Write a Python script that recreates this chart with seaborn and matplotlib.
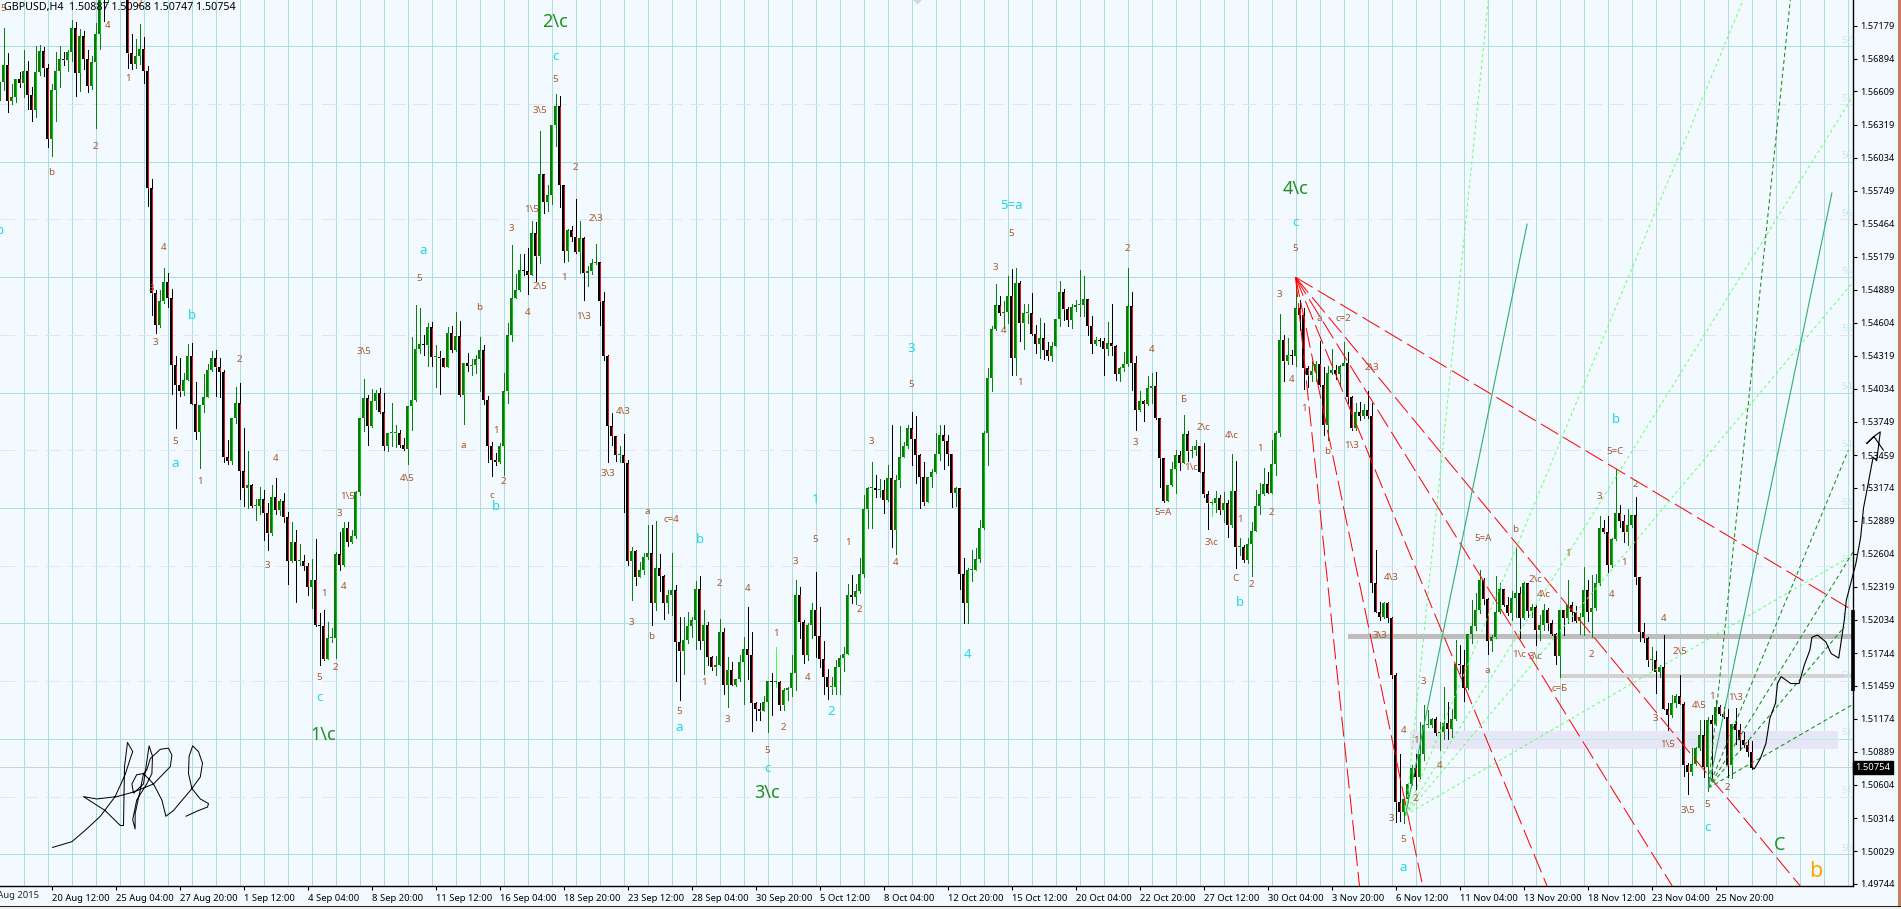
import numpy as np
import seaborn as sns
import matplotlib.pyplot as plt
from matplotlib.patches import Rectangle

# GBPUSD H4 candles, prices in 1/10000, first candle has index -1
first_open = 15653
closes = [15669,
    15684,15653,15656,15672,15668,15679,15658,15645,15678,15696,
    15681,15620,15662,15679,15689,15688,15695,15716,15677,15709,
    15689,15666,15686,15711,15746,15745,15770,15790,15800,15790,
    15785,15694,15685,15692,15698,15679,15577,15486,15459,15479,
    15496,15482,15424,15407,15401,15411,15432,15390,15366,15389,
    15396,15420,15430,15422,15418,15344,15341,15378,15391,15332,
    15317,15320,15302,15302,15308,15296,15278,15310,15298,15306,
    15292,15254,15271,15254,15254,15250,15232,15238,15199,15198,
    15169,15187,15187,15260,15251,15283,15271,15276,15314,15378,
    15395,15371,15393,15400,15383,15354,15365,15365,15365,15355,
    15351,15388,15394,15438,15442,15441,15457,15431,15431,15430,
    15422,15452,15437,15449,15398,15426,15423,15424,15429,15437,
    15394,15354,15342,15340,15354,15401,15450,15482,15489,15506,
    15505,15502,15538,15518,15589,15565,15571,15632,15648,15580,
    15523,15541,15535,15522,15534,15504,15505,15512,15513,15479,
    15432,15371,15362,15346,15346,15339,15254,15263,15240,15246,
    15258,15261,15218,15248,15241,15218,15225,15229,15184,15176,
    15186,15198,15203,15230,15185,15199,15171,15162,15164,15193,
    15147,15160,15147,15152,15167,15178,15173,15131,15126,15124,
    15132,15150,15149,15149,15129,15142,15144,15157,15225,15201,
    15173,15199,15212,15189,15169,15154,15145,15145,15162,15170,
    15174,15225,15223,15228,15243,15299,15317,15317,15316,15316,
    15307,15326,15281,15324,15344,15354,15369,15360,15346,15327,
    15305,15327,15331,15347,15363,15358,15347,15313,15317,15243,
    15218,15246,15246,15256,15283,15365,15413,15455,15476,15469,
    15470,15484,15430,15495,15460,15469,15469,15451,15442,15447,
    15437,15432,15440,15464,15487,15472,15463,15474,15476,15476,
    15481,15458,15442,15446,15445,15438,15443,15440,15416,15421,
    15425,15475,15426,15385,15393,15390,15404,15406,15378,15343,
    15306,15320,15334,15346,15339,15364,15349,15350,15354,15331,
    15312,15304,15304,15309,15298,15304,15285,15315,15266,15266,
    15255,15269,15280,15302,15312,15321,15313,15338,15365,15446,
    15427,15433,15432,15473,15467,15421,15415,15419,15425,15407,
    15372,15417,15420,15416,15423,15426,15396,15369,15383,15380,
    15385,15380,15235,15210,15206,15218,15205,15155,15045,15037,
    15048,15061,15075,15067,15087,15112,15112,15117,15105,15106,
    15114,15109,15117,15165,15164,15144,15191,15198,15212,15238,
    15221,15185,15188,15210,15230,15216,15209,15222,15226,15205,
    15235,15211,15214,15194,15199,15212,15200,15191,15172,15212,
    15205,15216,15210,15202,15206,15229,15210,15213,15235,15283,
    15279,15251,15273,15296,15289,15279,15285,15294,15240,15193,
    15187,15168,15168,15158,15162,15126,15121,15131,15137,15130,
    15077,15071,15078,15092,15103,15076,15116,15113,15128,15122,
    15119,15077,15113,15108,15099,15095,15089,15075]
highs = [15669,
    15716,15694,15667,15672,15678,15697,15687,15665,15700,15701,
    15699,15685,15667,15695,15700,15695,15697,15723,15721,15715,
    15713,15697,15692,15720,15755,15760,15780,15800,15810,15810,
    15800,15790,15711,15706,15719,15708,15683,15585,15489,15489,
    15508,15504,15490,15432,15430,15417,15442,15443,15409,15389,
    15416,15425,15436,15437,15430,15420,15359,15378,15405,15408,
    15369,15349,15321,15308,15318,15316,15304,15320,15326,15308,
    15313,15297,15288,15281,15269,15259,15252,15256,15273,15209,
    15212,15201,15196,15262,15279,15288,15288,15281,15315,15378,
    15412,15398,15403,15402,15404,15400,15365,15391,15372,15368,
    15361,15388,15448,15476,15473,15450,15460,15461,15441,15436,
    15430,15457,15458,15470,15462,15426,15434,15429,15433,15448,
    15441,15397,15357,15348,15356,15417,15460,15528,15503,15520,
    15520,15525,15549,15548,15627,15589,15580,15632,15659,15657,
    15580,15542,15544,15568,15549,15535,15510,15516,15529,15513,
    15487,15433,15382,15362,15354,15364,15342,15266,15264,15253,
    15261,15285,15285,15289,15260,15242,15229,15261,15233,15206,
    15206,15210,15206,15237,15241,15212,15201,15172,15172,15204,
    15196,15171,15167,15152,15173,15188,15214,15193,15132,15131,
    15137,15150,15157,15180,15150,15144,15145,15173,15238,15232,
    15203,15200,15218,15245,15214,15185,15161,15154,15168,15173,
    15180,15234,15242,15234,15257,15311,15318,15340,15329,15325,
    15324,15337,15372,15329,15371,15357,15372,15383,15380,15347,
    15340,15327,15334,15365,15372,15372,15363,15347,15318,15317,
    15257,15248,15264,15265,15290,15367,15421,15458,15494,15484,
    15479,15501,15507,15508,15497,15477,15477,15486,15459,15465,
    15460,15444,15444,15464,15497,15490,15474,15477,15480,15506,
    15501,15481,15466,15448,15447,15447,15461,15477,15441,15422,
    15435,15508,15487,15432,15401,15394,15414,15417,15418,15378,
    15343,15320,15340,15350,15349,15381,15367,15354,15359,15354,
    15356,15315,15308,15315,15311,15314,15307,15347,15341,15274,
    15268,15274,15288,15316,15322,15335,15331,15359,15367,15468,
    15450,15447,15437,15499,15480,15473,15423,15427,15427,15445,
    15422,15423,15438,15424,15424,15444,15435,15397,15391,15392,
    15390,15401,15391,15264,15219,15219,15219,15206,15157,15087,
    15048,15062,15077,15087,15115,15129,15125,15118,15119,15115,
    15145,15132,15126,15186,15181,15177,15191,15220,15226,15246,
    15239,15222,15190,15241,15235,15230,15223,15228,15266,15232,
    15236,15228,15217,15216,15207,15217,15213,15203,15192,15212,
    15212,15238,15219,15215,15209,15249,15238,15242,15243,15293,
    15290,15293,15274,15334,15303,15294,15299,15294,15310,15240,
    15200,15188,15180,15176,15164,15190,15131,15138,15139,15155,
    15132,15079,15092,15093,15116,15116,15119,15121,15134,15129,
    15128,15126,15113,15127,15113,15106,15099,15098]
lows = [15580,
    15662,15643,15650,15652,15665,15656,15646,15635,15639,15675,
    15674,15613,15605,15635,15665,15684,15679,15687,15657,15661,
    15680,15660,15663,15629,15698,15722,15738,15760,15770,15770,
    15770,15681,15680,15681,15685,15668,15562,15467,15452,15457,
    15478,15474,15399,15369,15397,15398,15411,15390,15360,15335,
    15383,15399,15419,15397,15396,15340,15338,15338,15374,15308,
    15302,15300,15301,15290,15295,15272,15264,15277,15295,15294,
    15288,15234,15253,15219,15251,15246,15225,15213,15198,15164,
    15168,15173,15184,15170,15246,15250,15267,15270,15274,15311,
    15367,15355,15370,15386,15382,15350,15349,15354,15353,15353,
    15350,15338,15368,15393,15434,15433,15423,15423,15405,15399,
    15422,15425,15435,15436,15397,15373,15419,15415,15417,15401,
    15390,15340,15328,15337,15339,15329,15391,15445,15482,15488,
    15502,15485,15502,15497,15512,15556,15557,15563,15614,15561,
    15513,15514,15531,15521,15504,15480,15492,15503,15511,15459,
    15428,15340,15355,15341,15340,15297,15251,15220,15233,15240,
    15243,15256,15199,15212,15228,15204,15209,15207,15150,15134,
    15156,15183,15188,15178,15178,15156,15164,15160,15155,15164,
    15139,15128,15147,15146,15150,15130,15152,15107,15116,15116,
    15124,15106,15121,15145,15125,15125,15134,15137,15142,15187,
    15166,15168,15187,15171,15162,15139,15135,15139,15139,15139,
    15159,15174,15218,15217,15226,15240,15283,15283,15310,15310,
    15296,15306,15266,15260,15318,15344,15352,15337,15322,15300,
    15303,15310,15318,15330,15342,15334,15337,15301,15302,15230,
    15200,15200,15237,15246,15253,15282,15337,15401,15454,15467,
    15456,15460,15415,15415,15445,15438,15460,15450,15434,15430,
    15429,15428,15427,15440,15458,15463,15458,15456,15471,15466,
    15466,15450,15434,15441,15440,15415,15433,15433,15411,15410,
    15419,15423,15402,15368,15384,15375,15389,15391,15377,15318,
    15305,15306,15319,15313,15333,15339,15341,15344,15346,15331,
    15310,15282,15293,15297,15295,15288,15275,15284,15248,15259,
    15253,15252,15241,15280,15295,15311,15313,15313,15329,15362,
    15410,15425,15425,15423,15454,15403,15405,15410,15410,15406,
    15363,15359,15416,15412,15406,15424,15391,15368,15368,15376,
    15378,15378,15227,15210,15203,15205,15201,15153,15028,15029,
    15027,15045,15060,15057,15066,15082,15110,15110,15103,15090,
    15100,15100,15102,15116,15157,15133,15143,15183,15194,15209,
    15217,15174,15176,15187,15209,15215,15207,15203,15206,15187,
    15204,15206,15206,15181,15186,15194,15194,15190,15165,15154,
    15190,15200,15202,15201,15191,15190,15202,15188,15212,15233,
    15278,15245,15249,15272,15284,15271,15268,15284,15234,15185,
    15184,15163,15160,15140,15154,15126,15108,15119,15128,15130,
    15068,15052,15069,15077,15090,15067,15055,15066,15112,15121,
    15118,15067,15066,15096,15090,15093,15085,15074]
lime_candles = [193, 302]

price_ticks = [1.57179, 1.56894, 1.56609, 1.56319, 1.56034, 1.55749, 1.55464, 1.55179, 1.54889,
               1.54604, 1.54319, 1.54034, 1.53749, 1.53459, 1.53174, 1.52889, 1.52604, 1.52319,
               1.52034, 1.51744, 1.51459, 1.51174, 1.50889, 1.50604, 1.50314, 1.50029, 1.49744]
time_labels = ["20 Aug 12:00", "25 Aug 04:00", "27 Aug 20:00", "1 Sep 12:00", "4 Sep 04:00", "8 Sep 20:00",
               "11 Sep 12:00", "16 Sep 04:00", "18 Sep 20:00", "23 Sep 12:00", "28 Sep 04:00", "30 Sep 20:00",
               "5 Oct 12:00", "8 Oct 04:00", "12 Oct 20:00", "15 Oct 12:00", "20 Oct 04:00", "22 Oct 20:00",
               "27 Oct 12:00", "30 Oct 04:00", "3 Nov 20:00", "6 Nov 12:00", "11 Nov 04:00", "13 Nov 20:00",
               "18 Nov 12:00", "23 Nov 04:00", "25 Nov 20:00"]
solid_levels = [1.57, 1.56, 1.55, 1.54, 1.53, 1.52, 1.51, 1.50]
dashed_levels = [1.565, 1.555, 1.545, 1.535, 1.525, 1.515, 1.505]
pale_text = ["57", "57", "56", "56", "55", "55", "54", "54", "53", "53", "52", "52", "51", "51", "50"]
pale_levels = [1.57, 1.565, 1.56, 1.555, 1.55, 1.545, 1.54, 1.535, 1.53, 1.525, 1.52, 1.515, 1.51, 1.505, 1.50]
last_price = 1.50754

# wave labels: candle, price, text
small_idx = [31,23,12,26,34,0,40,37,38,43,59,90,104,115,119,68,49,66,80,86,84,85,83,79,101,
    138,134,143,132,148,127,140,134,131,145,123,155,227,217,125,122,151,157,161,167,162,169,179,175,181,186,
    193,191,195,198,201,203,211,214,223,252,248,250,254,281,283,287,290,295,300,297,307,302,309,308,312,314,
    317,319,322,323,325,329,335,331,342,337,347,344,355,350,353,359,353,347,350,370,378,383,385,371,379,383,
    389,391,397,399,405,402,408,403,415,419,413,416,424,427,433,431,421,426]
small_price = [15672,15613,15591,15718,15737,15733,15526,15490,15443,15358,15429,15436,15499,15354,15474,15343,
    15323,15250,15226,15310,15295,15232,15162,15153,15326,15671,15644,15595,15559,15551,15542,15500,15492,15469,
    15466,15367,15384,15407,15358,15323,15311,15330,15201,15297,15290,15189,15124,15235,15149,15117,15230,15191,
    15090,15110,15254,15153,15273,15270,15212,15253,15538,15508,15454,15409,15525,15357,15437,15296,15394,15370,
    15335,15363,15270,15290,15239,15234,15352,15296,15485,15411,15525,15386,15464,15464,15349,15422,15354,15240,
    15190,15150,15107,15099,15077,15048,15031,15013,15274,15281,15238,15225,15159,15173,15171,15144,15261,15173,
    15310,15253,15225,15320,15349,15204,15176,15118,15095,15129,15137,15136,15058,15038,15043]
small_text = ["1","2","b","4","2","5","4","3","3","5","2","3\\5","5","a","b","4","1","3","1","1\\5","3","4","2","5","4\\5",
    "5","3\\5","2","1\\5","2\\3","3","1","2\\5","4","1\\3","1","4\\3","5","3","2","c","3\\3","3","a","c=4","b","5","2","1","3","4",
    "1","5","2","3","4","5","1","2","4","5","3","4","1","2","3","4","5=A","Б","2\\c","1\\c","4\\c","3\\c","1","C","2","1",
    "2","3","4","5","1","a","c=2","b","2\\3","1\\3","4\\3","3\\3","3","4","1","4","2","3","5","5=A","b","2\\c","4\\c","a","1\\c","3\\c",
    "c=Б","1","2","3","1","4","2","5=C","4","2\\5","3","1\\5","4\\5","1","1\\3","2","3\\5","5"]
cyan_idx = [-1,47,105,43,79,123,138,227,174,169,203,207,191,252,241,323,309,350,403,426]
cyan_price = [15540,15467,15523,15339,15136,15301,15691,15438,15273,15110,15307,15124,15074,15562,15173,15547,15218,14989,15377,15023]
cyan_text = ["b","b","a","a","c","b","c","3","b","a","1","2","c","5=a","4","c","b","a","b","c"]
green_idx = [138,80,191,323,444]
green_price = [15721,15103,15053,15576,15008]
green_text = ["2\\c","1\\c","3\\c","4\\c","C"]

# fan lines, from an apex to an end point (candle, price)
red_apex = (323, 15500)
red_ends_x = [462.2, 449.2, 417.2, 385.9, 354.8, 339.0]
red_ends_y = [15211.6, 14972.5, 14972.5, 14972.5, 14972.5, 14972.5]
lime_apex = (350.5, 15034)
lime_ends_x = [371.2, 434.9, 462.2, 462.2, 462.2]
lime_ends_y = [15740, 15740, 15656, 15495, 15259]
solid_a_end = (380.9, 15546)
dark_apex = (426.2, 15057.5)
dark_ends_x = [446.7, 461.2, 462.4, 460.2, 462.4]
dark_ends_y = [15740, 15350, 15262, 15197, 15130]
solid_b_end = (457.1, 15573)

# hand drawn forecast and signature
forecast_x = [437.0,437.7,439.2,440.6,441.6,443.0,443.5,444.4,446.8,448.9,450.2,451.6,452.1,453.5,455.6,456.9,458.8,
              460.2,460.7,462.2,463.1,464.3,465.0,466.0,467.4,468.3,469.2,467.6,465.8,467.6,470.0]
forecast_y = [15076,15074,15083,15096,15118,15131,15148,15154,15148,15148,15164,15177,15188,15190,15184,15174,15170,
              15203,15220,15240,15252,15275,15300,15318,15344,15341,15366,15362,15356,15362,15350]
sign_x = [12.25,17.1,20.8,24.2,27.9,30.4,31.7,32.3,31,30.25,30,29.2,25.4,20,23.3,28.3,32.5,37.5,41.7,42.1,41.25,39.2,36.7,
          35.8,35,33.3,32.1,32.5,35,36.4,37.25,37.1,35.8,33.3,32.3,32.9,32.9,34.2,35,37.5,39.6,40.6,42.5,47.1,49.2,49.75,
          48.75,47.3,46.4,46.25,47.1,49.2,51.25,51,48.75,45.6]
sign_y = [15006,15011,15022,15033,15050,15069,15083,15089,15097,15076,15025,15025,15038,15050,15048,15050,15054,15061,15076,
          15086,15092,15091,15083,15073,15070,15069,15061,15053,15061,15094,15085,15070,15061,15047,15030,15022,15035,15056,
          15070,15061,15047,15033,15038,15057,15067,15079,15089,15094,15085,15070,15057,15048,15044,15041,15038,15033]

BG = "#F3FAFF"
GRID = "#B0DCE0"
FONT = "Noto Sans"

sns.set_theme(style="white", rc={"axes.facecolor": BG, "figure.facecolor": BG})
plt.rcParams["font.family"] = [FONT, "DejaVu Sans"]

idx = np.arange(-1, len(closes) - 1)
c = np.array(closes) / 1e4
h = np.array(highs) / 1e4
l = np.array(lows) / 1e4
o = np.r_[first_open / 1e4, c[:-1]]

fig = plt.figure(figsize=(19.01, 9.09), dpi=100)
ax = fig.add_axes([0, 23 / 909, 1853 / 1901, 886 / 909])
ax.set_xlim(-0.875, 462.375)
ax.set_ylim(1.49726, 1.57401)

for x in range(5, 463, 6):
    ax.axvline(x, color=GRID, lw=0.72, zorder=1, antialiased=False)
for y in solid_levels:
    ax.axhline(y, color=GRID, lw=0.72, zorder=1, antialiased=False)
for y in dashed_levels:
    ax.axhline(y, color="#E3E3F5", lw=0.72, ls=(0, (15, 9)), zorder=1, antialiased=False)
ax.axhline(last_price, color="#D2D2D2", lw=0.72, zorder=1.5, antialiased=False)

# support zones
ax.fill_between([351.5, 458.5], 1.5091, 1.51071, color="#E6E6F7", lw=0, zorder=1.2)
ax.plot([351.5, 458.5], [1.51, 1.51], color="#B5F0E5", lw=0.72, zorder=1.3, antialiased=False)
ax.fill_between([336, 462.375], 1.51866, 1.51905, color="#BDBDBD", lw=0, zorder=2)
ax.fill_between([389, 462.375], 1.51527, 1.51562, color="#D2D2D2", lw=0, zorder=2)

# candles: dark 3px body with a 1px coloured core, same as the terminal draws them
up = c >= o
wick_up = ["#44FF44" if i in lime_candles else "#0B7F0B" for i in idx[up]]
ax.vlines(idx[up], l[up], h[up], colors=wick_up, lw=0.72, zorder=3, antialiased=False)
ax.vlines(idx[~up], l[~up], h[~up], colors="black", lw=0.72, zorder=3, antialiased=False)
ax.bar(idx[up], np.maximum(c[up] - o[up], 0.00009), bottom=o[up], width=0.75, color="#0A7A0A", lw=0,
       zorder=4, antialiased=False)
ax.bar(idx[~up], np.maximum(o[~up] - c[~up], 0.00009), bottom=c[~up], width=0.75, color="black", lw=0,
       zorder=4, antialiased=False)
ax.vlines(idx[up], o[up] + 0.00006, c[up] - 0.00006, colors="#00CC00", lw=0.72, zorder=4.5, antialiased=False)
ax.vlines(idx[~up], c[~up] + 0.00006, o[~up] - 0.00006, colors="#DD1515", lw=0.72, zorder=4.5, antialiased=False)

for ex, ey in zip(red_ends_x, red_ends_y):
    sns.lineplot(x=[red_apex[0], ex], y=[red_apex[1] / 1e4, ey / 1e4], color="#FF0000", lw=0.72,
                 ls=(0, (20, 6)), ax=ax, zorder=5, estimator=None, sort=False)
for ex, ey in zip(lime_ends_x, lime_ends_y):
    sns.lineplot(x=[lime_apex[0], ex], y=[lime_apex[1] / 1e4, ey / 1e4], color="#66FF66", lw=0.72,
                 ls=(0, (3, 3)), ax=ax, zorder=5, estimator=None, sort=False)
for ex, ey in zip(dark_ends_x, dark_ends_y):
    sns.lineplot(x=[dark_apex[0], ex], y=[dark_apex[1] / 1e4, ey / 1e4], color="#0A8A0A", lw=0.72,
                 ls=(0, (4, 3)), ax=ax, zorder=5, estimator=None, sort=False)
for apex, end in [(lime_apex, solid_a_end), (dark_apex, solid_b_end)]:
    sns.lineplot(x=[apex[0], end[0]], y=[apex[1] / 1e4, end[1] / 1e4], color="#2EB06E", lw=0.8,
                 ax=ax, zorder=5, estimator=None, sort=False)

sns.lineplot(x=forecast_x, y=np.array(forecast_y) / 1e4, color="black", lw=0.8, ax=ax, zorder=6,
             estimator=None, sort=False, clip_on=False)
sns.lineplot(x=sign_x, y=np.array(sign_y) / 1e4, color="black", lw=0.72, ax=ax, zorder=6,
             estimator=None, sort=False)

for x, y, s in zip(small_idx, small_price, small_text):
    ax.text(x, y / 1e4, s, color="#A5562A", fontsize=7, ha="center", va="center", zorder=7)
for x, y, s in zip(cyan_idx, cyan_price, cyan_text):
    ax.text(x, y / 1e4, s, color="#22D7E8", fontsize=9.5, ha="center", va="center", zorder=7, clip_on=True)
for x, y, s in zip(green_idx, green_price, green_text):
    ax.text(x, y / 1e4, s, color="#1E8F1E", fontsize=13, ha="center", va="center", zorder=7)
ax.text(453, 1.4985, "b", color="#FFA500", fontsize=15.5, ha="center", va="center", zorder=7)
for y, s in zip(pale_levels, pale_text):
    ax.text(460.9, y + 0.00052, s, color="#C8E8F0", fontsize=7, ha="center", va="center", zorder=2)
ax.plot(228.4, 1.5741, "D", color="#D8D8D8", ms=4, zorder=2)

# axes, MT4 style: prices on the right, time along the bottom
for name in ["left", "top"]:
    ax.spines[name].set_visible(False)
for name in ["right", "bottom"]:
    ax.spines[name].set_visible(True)
    ax.spines[name].set_color("black")
    ax.spines[name].set_linewidth(1.0)
ax.yaxis.tick_right()
ax.set_yticks(price_ticks)
ax.set_yticklabels([f"{p:.5f}" for p in price_ticks], fontsize=6.6, color="black")
ax.set_xticks([12 + 16 * k for k in range(len(time_labels))])
ax.set_xticklabels(time_labels, fontsize=6.8, color="black", ha="left")
ax.tick_params(axis="both", length=3, width=0.8, color="black", pad=2, bottom=True, right=True)
ax.tick_params(axis="x", pad=3)
ax.set_xlabel("")
ax.set_ylabel("")
ax.text(8.9, -0.0112, "18 Aug 2015", transform=ax.get_xaxis_transform(), fontsize=6.8, ha="right",
        va="center", clip_on=False)

ax.plot([462.375, 462.375], [1.51417, 1.52116], color="black", lw=2.6, clip_on=False, zorder=8,
        solid_capstyle="butt")
ax.text(1.0013, last_price, f"{last_price:.5f}", transform=ax.get_yaxis_transform(), color="white",
        fontsize=6.8, fontweight="bold", va="center", ha="left", clip_on=False, zorder=9,
        bbox=dict(facecolor="black", edgecolor="black", pad=1.6))
ax.text(0.002, 0.9915, "GBPUSD,H4  1.50887 1.50968 1.50747 1.50754", transform=ax.transAxes, color="black",
        fontsize=7.7, ha="left", va="center", zorder=9)

# window frame around the chart
fig.add_artist(Rectangle((1898 / 1901, 0), 3 / 1901, 1, transform=fig.transFigure, color="#C87F5F", lw=0))
fig.add_artist(Rectangle((0, 0), 1, 3 / 909, transform=fig.transFigure, color="#EDEDED", lw=0))
fig.add_artist(Rectangle((0, 2.5 / 909), 1, 1 / 909, transform=fig.transFigure, color="#222222", lw=0))

fig.savefig("out.png", dpi=100)
